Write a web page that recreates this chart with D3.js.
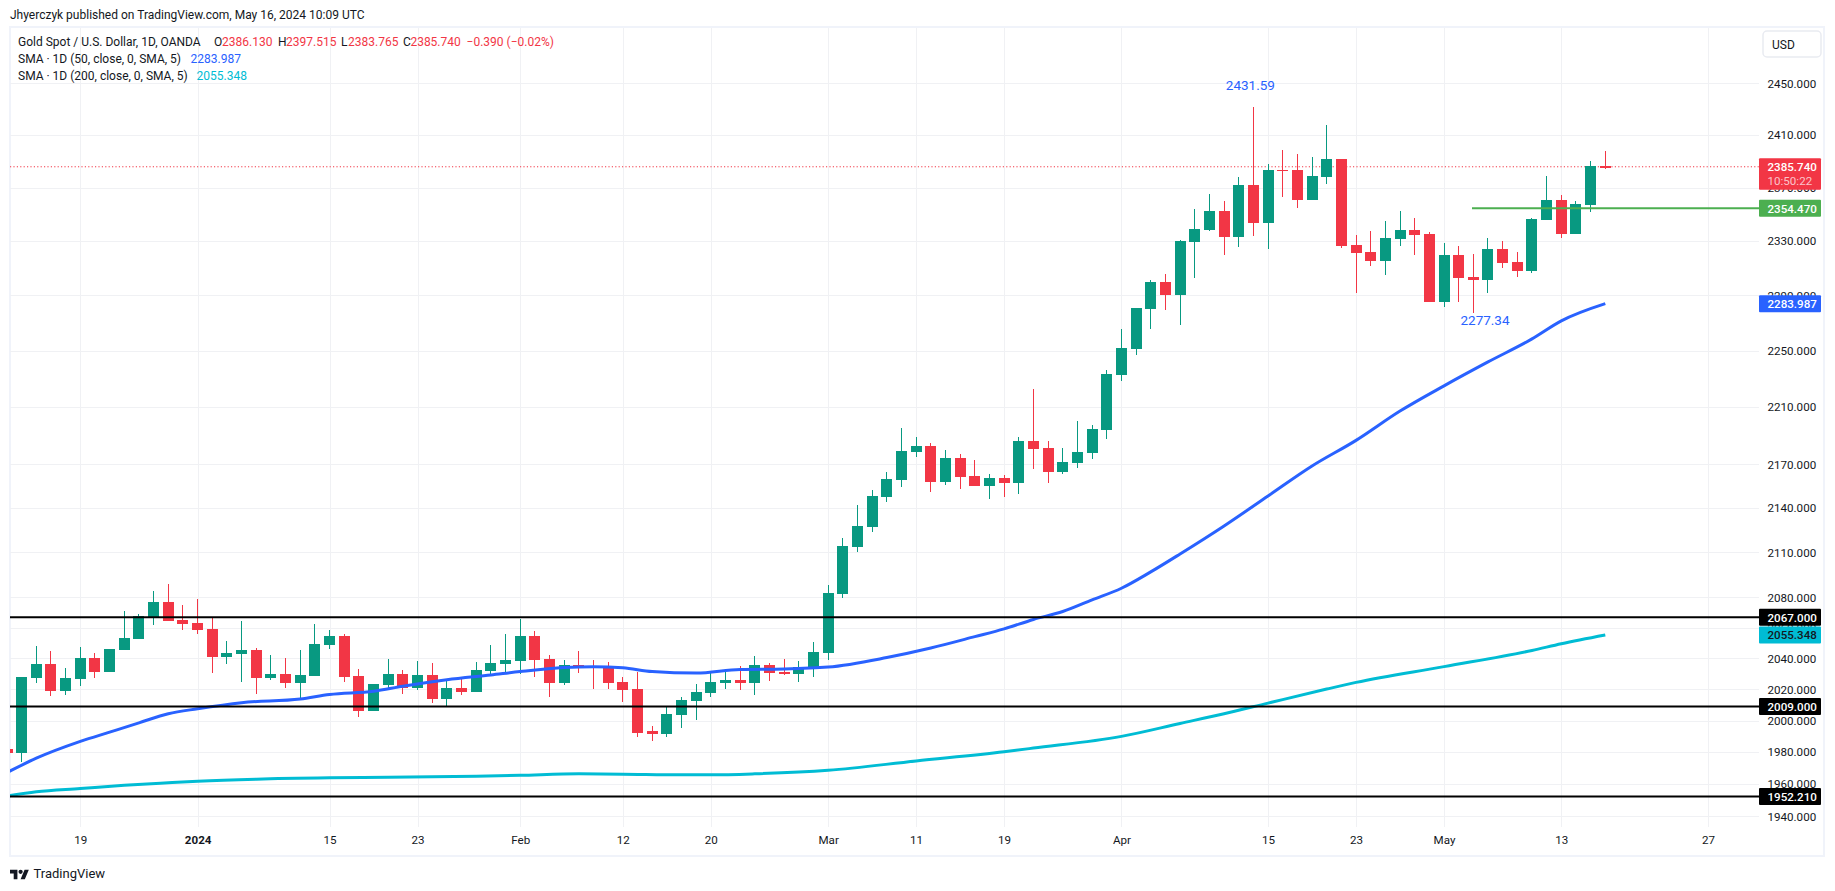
<!DOCTYPE html>
<html><head><meta charset="utf-8">
<script src="https://cdnjs.cloudflare.com/ajax/libs/d3/7.8.5/d3.min.js"></script>
<style>
html,body{margin:0;padding:0;background:#fff;overflow:hidden}
svg{display:block}
text{font-family:Roboto,"Liberation Sans",sans-serif;fill:#131722}
</style></head><body>
<svg id="c" width="1835" height="891"></svg>
<script>
const dates = ["2023-12-12","2023-12-13","2023-12-14","2023-12-15","2023-12-18","2023-12-19","2023-12-20","2023-12-21","2023-12-22","2023-12-26","2023-12-27","2023-12-28","2023-12-29",
"2024-01-02","2024-01-03","2024-01-04","2024-01-05","2024-01-08","2024-01-09","2024-01-10","2024-01-11","2024-01-12","2024-01-15","2024-01-16","2024-01-17","2024-01-18","2024-01-19","2024-01-22","2024-01-23","2024-01-24","2024-01-25","2024-01-26","2024-01-29","2024-01-30","2024-01-31",
"2024-02-01","2024-02-02","2024-02-05","2024-02-06","2024-02-07","2024-02-08","2024-02-09","2024-02-12","2024-02-13","2024-02-14","2024-02-15","2024-02-16","2024-02-19","2024-02-20","2024-02-21","2024-02-22","2024-02-23","2024-02-26","2024-02-27","2024-02-28","2024-02-29",
"2024-03-01","2024-03-04","2024-03-05","2024-03-06","2024-03-07","2024-03-08","2024-03-11","2024-03-12","2024-03-13","2024-03-14","2024-03-15","2024-03-18","2024-03-19","2024-03-20","2024-03-21","2024-03-22","2024-03-25","2024-03-26","2024-03-27","2024-03-28",
"2024-04-01","2024-04-02","2024-04-03","2024-04-04","2024-04-05","2024-04-08","2024-04-09","2024-04-10","2024-04-11","2024-04-12","2024-04-15","2024-04-16","2024-04-17","2024-04-18","2024-04-19","2024-04-22","2024-04-23","2024-04-24","2024-04-25","2024-04-26","2024-04-29","2024-04-30",
"2024-05-01","2024-05-02","2024-05-03","2024-05-06","2024-05-07","2024-05-08","2024-05-09","2024-05-10","2024-05-13","2024-05-14","2024-05-15","2024-05-16"];
const futureDates = ["2024-05-17","2024-05-20","2024-05-21","2024-05-22","2024-05-23","2024-05-24","2024-05-27"];

const opens = [1982.1,1979.3,2027.6,2036.7,2019.1,2026.9,2040.6,2031.5,2045.8,2052.9,2067.2,2077.0,2065.3,2063.3,2059.4,2041.2,2043.2,2045.8,2027.6,2030.2,2024.3,2028.9,2049.0,2054.9,2028.9,2006.1,2023.0,2030.2,2021.1,2029.5,2013.9,2021.1,2018.5,2032.1,2036.7,2038.6,2054.9,2039.9,2024.3,2036.0,2035.4,2034.7,2025.0,2020.4,1993.1,1991.8,2003.5,2012.6,2017.8,2024.3,2026.3,2024.3,2036.0,2031.5,2030.2,2034.1,2043.8,2082.3,2113.7,2127.2,2147.6,2159.3,2178.7,2182.8,2157.9,2174.5,2162.0,2155.2,2160.7,2157.2,2186.3,2181.5,2164.8,2171.0,2178.0,2194.0,2232.8,2251.3,2280.2,2299.9,2290.3,2329.3,2338.2,2352.5,2333.0,2372.0,2343.5,2383.4,2383.4,2360.7,2378.1,2391.8,2327.0,2321.9,2315.3,2331.5,2338.2,2335.2,2285.2,2319.7,2303.5,2301.3,2324.1,2314.6,2308.0,2345.7,2360.7,2335.2,2357.0,2386.13];
const highs = [1982.5,2028.2,2048.4,2045.1,2034.1,2047.7,2043.8,2046.4,2071.1,2069.2,2084.1,2088.7,2075.0,2078.9,2066.6,2051.6,2064.6,2047.1,2042.5,2040.6,2045.8,2062.7,2058.8,2056.2,2033.4,2023.7,2039.9,2032.8,2038.6,2037.3,2025.6,2027.6,2038.0,2049.0,2056.2,2065.9,2058.1,2042.5,2039.3,2045.1,2039.3,2038.0,2028.2,2031.5,1996.4,2008.7,2015.2,2023.7,2031.5,2032.8,2035.4,2041.9,2037.3,2039.9,2038.6,2051.0,2088.0,2119.8,2142.1,2152.4,2164.8,2195.4,2189.1,2184.9,2180.1,2177.3,2173.1,2163.4,2162.7,2189.1,2222.8,2186.3,2181.5,2200.3,2197.5,2236.3,2265.7,2280.9,2301.3,2305.7,2330.8,2354.0,2365.2,2360.0,2378.1,2431.6,2388.0,2398.6,2395.6,2393.3,2417.7,2391.8,2334.5,2337.5,2345.0,2352.5,2347.2,2336.7,2328.5,2326.3,2320.4,2332.2,2330.0,2321.9,2347.2,2378.8,2364.5,2360.0,2390.3,2397.515];
const lows = [1979.0,1973.6,2024.3,2015.9,2016.5,2022.4,2027.6,2031.5,2045.8,2052.9,2062.0,2064.6,2058.8,2056.2,2030.8,2036.7,2025.0,2017.2,2026.3,2021.1,2014.1,2028.9,2046.4,2025.0,2002.2,2006.1,2021.1,2017.2,2019.8,2011.3,2009.4,2016.5,2018.5,2029.5,2031.5,2030.2,2028.2,2015.2,2023.0,2030.8,2020.4,2020.4,2011.9,1989.8,1987.2,1989.8,1995.1,2000.3,2015.2,2020.4,2019.8,2016.5,2025.6,2029.5,2025.0,2028.2,2039.3,2079.7,2110.3,2123.8,2144.2,2154.5,2175.2,2151.1,2155.9,2153.1,2155.2,2146.2,2147.6,2149.7,2166.8,2157.2,2163.4,2167.5,2173.8,2187.7,2228.5,2247.0,2265.7,2279.5,2268.6,2302.8,2337.5,2319.7,2325.6,2333.7,2324.1,2363.0,2354.7,2360.7,2372.8,2324.9,2291.8,2311.6,2305.0,2326.3,2319.7,2285.2,2281.6,2285.2,2277.3,2291.8,2310.2,2303.5,2306.5,2345.7,2332.2,2335.2,2351.7,2383.765];
const closes = [1979.5,2028.2,2036.7,2019.1,2027.6,2040.6,2031.5,2046.4,2053.6,2067.9,2077.0,2064.6,2062.7,2058.8,2041.2,2043.8,2045.8,2027.6,2030.2,2024.3,2029.5,2049.7,2054.9,2028.2,2006.1,2023.7,2030.2,2021.1,2029.5,2013.9,2021.1,2018.5,2032.8,2037.3,2039.3,2054.9,2039.3,2024.3,2036.0,2034.7,2034.1,2024.3,2019.8,1992.4,1991.8,2004.2,2013.2,2018.5,2025.0,2026.3,2024.3,2036.0,2030.8,2030.2,2034.7,2044.5,2082.8,2114.4,2127.9,2148.3,2160.0,2179.4,2182.8,2157.9,2174.5,2161.4,2155.2,2160.7,2157.2,2186.3,2180.8,2164.8,2171.7,2178.7,2194.7,2233.5,2252.0,2280.9,2299.9,2290.3,2330.0,2339.0,2352.5,2333.0,2372.0,2343.5,2383.4,2382.6,2360.7,2378.8,2391.8,2326.3,2321.2,2315.3,2332.2,2338.2,2334.5,2285.2,2319.7,2302.8,2301.3,2324.1,2313.8,2308.0,2346.5,2360.7,2335.2,2357.7,2386.5,2385.74];

const sma50Bars = [0,2,5,7,9,11,13,16,20,22,25,27,30,33,35,38,40,42,44,47,50,53,56,60,63,66,68,70,72,74,76,78,80,83,86,89,92,95,98,101,104,106,109];
const sma50Values = [1967.2,1976.2,1986.8,1992.7,1998.6,2004.4,2007.6,2011.5,2013.8,2016.7,2018.8,2022.0,2026.2,2029.3,2031.5,2034.1,2034.6,2033.9,2031.5,2030.5,2032.9,2033.2,2034.4,2040.6,2046.8,2054.2,2059.3,2065.5,2070.7,2078.4,2086.1,2097.0,2109.0,2127.9,2148.3,2168.9,2186.7,2207.2,2225.0,2242.0,2258.5,2271.5,2283.987];
const sma200Bars = [0,2,5,8,11,13,17,22,26,32,35,39,42,46,48,51,56,62,68,70,76,80,83,86,90,92,98,104,106,109];
const sma200Values = [1952.5,1955.2,1957.2,1959.2,1960.8,1961.8,1963.1,1963.9,1964.2,1964.9,1965.5,1966.4,1966.2,1965.8,1965.8,1966.4,1968.6,1974.5,1980.3,1982.6,1990.0,1998.2,2004.4,2011.2,2020.2,2024.5,2034.7,2045.2,2049.6,2055.348];

const priceTicks = [2450,2410,2370,2330,2290,2250,2210,2170,2140,2110,2080,2060,2040,2020,2000,1980,1960,1940];
const timeTickDates = ["2023-12-19","2024-01-02","2024-01-15","2024-01-23","2024-02-01","2024-02-12","2024-02-20","2024-03-01","2024-03-11","2024-03-19","2024-04-01","2024-04-15","2024-04-23","2024-05-01","2024-05-13","2024-05-27"];
const timeTickLabels = ["19","2024","15","23","Feb","12","20","Mar","11","19","Apr","15","23","May","13","27"];

const supportLevels = [2067,2009,1952.21];
const supportLabels = ["2067.000","2009.000","1952.210"];
const greenLevel = 2354.47;
const lastClose = 2385.74, sma50Last = 2283.987, sma200Last = 2055.348;

const C = {green:"#089981",red:"#f23645",blue:"#2962ff",cyan:"#00bcd4",grid:"#f0f3fa",line:"#4caf50",text:"#131722"};
const L = {left:10,right:1759,top:28,bottom:827,axisRight:1821};

const allDates = dates.concat(futureDates);
const x = d3.scaleLinear().domain([0,109]).range([7,1605.3]);
const y = d3.scaleLog().domain([1940,2450]).range([816.3,83.3]);
const svg = d3.select("#c");

svg.append("defs").append("clipPath").attr("id","pane").append("rect")
  .attr("x",L.left).attr("y",L.top).attr("width",L.right-L.left).attr("height",L.bottom-L.top);

// frame
svg.append("rect").attr("x",10).attr("y",27).attr("width",1814).attr("height",829)
  .attr("fill","#fff").attr("stroke",C.grid).attr("stroke-width",2);

// grid via axes
const tickIdx = timeTickDates.map(d=>allDates.indexOf(d));
const gx = svg.append("g").attr("transform",`translate(0,${L.top})`)
  .call(d3.axisBottom(x).tickValues(tickIdx).tickSize(L.bottom-L.top).tickFormat(""));
gx.select(".domain").remove();
gx.selectAll("line").attr("stroke","#f0f1f4").attr("shape-rendering","crispEdges");
const gy = svg.append("g").attr("transform",`translate(${L.right},0)`)
  .call(d3.axisLeft(y).tickValues(priceTicks).tickSize(L.right-L.left).tickFormat(""));
gy.select(".domain").remove();
gy.selectAll("line").attr("stroke","#f0f1f4").attr("shape-rendering","crispEdges");

const pane = svg.append("g").attr("clip-path","url(#pane)");

// last price dotted
pane.append("line").attr("x1",L.left).attr("x2",L.right).attr("y1",y(lastClose)).attr("y2",y(lastClose))
  .attr("stroke",C.red).attr("stroke-width",1).attr("stroke-dasharray","1.2 2.2");

// candles
const bars = d3.range(dates.length);
const col = i => closes[i] >= opens[i] ? C.green : C.red;
const bodyW = 11;
pane.append("g").attr("shape-rendering","crispEdges").selectAll("rect").data(bars).join("rect")
  .attr("x",i=>Math.round(x(i)-bodyW/2)+Math.floor(bodyW/2))
  .attr("width",1)
  .attr("y",i=>y(highs[i])).attr("height",i=>y(lows[i])-y(highs[i]))
  .attr("fill",col);
pane.append("g").attr("shape-rendering","crispEdges").selectAll("rect").data(bars).join("rect")
  .attr("x",i=>Math.round(x(i)-bodyW/2))
  .attr("width",bodyW)
  .attr("y",i=>y(Math.max(opens[i],closes[i])))
  .attr("height",i=>Math.max(1.5,Math.abs(y(opens[i])-y(closes[i]))))
  .attr("fill",col);

// SMAs
const lineGen = (bs,vs)=>d3.line().x((d,i)=>x(bs[i])).y((d,i)=>y(vs[i])).curve(d3.curveMonotoneX)(vs);
pane.append("path").attr("d",lineGen(sma200Bars,sma200Values)).attr("fill","none").attr("stroke",C.cyan).attr("stroke-width",3);
pane.append("path").attr("d",lineGen(sma50Bars,sma50Values)).attr("fill","none").attr("stroke",C.blue).attr("stroke-width",3);

// horizontal levels
pane.selectAll("line.lv").data(supportLevels).join("line").attr("class","lv")
  .attr("x1",L.left).attr("x2",L.right).attr("y1",d=>y(d)).attr("y2",d=>y(d))
  .attr("stroke","#000").attr("stroke-width",2);
const gs = 1472;
pane.append("line").attr("x1",gs).attr("x2",L.right).attr("y1",y(greenLevel)).attr("y2",y(greenLevel))
  .attr("stroke",C.line).attr("stroke-width",2);

// annotations
const note = (t,cx,cy)=>svg.append("text").text(t).attr("x",cx).attr("y",cy).attr("text-anchor","middle")
  .attr("dominant-baseline","central").attr("font-size",13.5).style("fill",C.blue);
note("2431.59",x(85)-3,85);
note("2277.34",1485,320);

// price axis
const ga = svg.append("g").attr("transform",`translate(${L.right},0)`)
  .call(d3.axisRight(y).tickValues(priceTicks).tickSize(0).tickPadding(8.5).tickFormat(d3.format(".3f")));
ga.select(".domain").remove();
ga.selectAll("text").attr("font-size",11.6).attr("font-family",null).style("fill",C.text);

// time axis
const gt = svg.append("g").attr("transform",`translate(0,${L.bottom})`)
  .call(d3.axisBottom(x).tickValues(tickIdx).tickSize(0).tickPadding(9).tickFormat((d,i)=>timeTickLabels[i]));
gt.select(".domain").remove();
gt.selectAll("text").attr("font-size",11.6).style("fill",C.text)
  .attr("font-weight",(d,i)=>timeTickLabels[i]==="2024"?700:400);

// axis tags
function tag(v,label,fill,txt){
  const cy=y(v), g=svg.append("g");
  g.append("rect").attr("x",L.right).attr("y",cy-8.5).attr("width",L.axisRight-L.right).attr("height",17).attr("fill",fill).attr("rx",1);
  g.append("text").text(label).attr("x",L.right+8.5).attr("y",cy+.5).attr("dominant-baseline","central").attr("font-size",11.6)
    .attr("font-weight",500).style("fill",txt);
}
supportLevels.forEach((v,i)=>tag(v,supportLabels[i],"#000","#fff"));
tag(sma200Last,"2055.348",C.cyan,"#131722");
tag(sma50Last,"2283.987",C.blue,"#fff");
tag(greenLevel,"2354.470",C.line,"#fff");
const rg=svg.append("g");
rg.append("rect").attr("x",L.right).attr("y",y(lastClose)-8.5).attr("width",L.axisRight-L.right).attr("height",31.5).attr("fill",C.red).attr("rx",1);
rg.append("text").text("2385.740").attr("x",L.right+8.5).attr("y",y(lastClose)+.5).attr("dominant-baseline","central").attr("font-size",11.6).attr("font-weight",500).style("fill","#fff");
rg.append("text").text("10:50:22").attr("x",L.right+8.5).attr("y",y(lastClose)+14.5).attr("dominant-baseline","central").attr("font-size",11.6).style("fill","#fbc4ca");

// currency button
svg.append("rect").attr("x",1763).attr("y",31).attr("width",58).attr("height",26).attr("rx",4).attr("fill","#fff").attr("stroke","#e9ebf1").attr("stroke-width",1.5);
svg.append("text").text("USD").attr("x",1772).attr("y",44.5).attr("dominant-baseline","central").attr("font-size",12);

// header
const T=(t,px,py,fill,fs)=>svg.append("text").text(t).attr("x",px).attr("y",py).attr("dominant-baseline","central").attr("font-size",fs||12).style("fill",fill||C.text);
T("Jhyerczyk published on TradingView.com, May 16, 2024 10:09 UTC",10,15);
T("Gold Spot / U.S. Dollar, 1D, OANDA",18,41.7);
T("O",214,41.7);T("2386.130",222,41.7,C.red);
T("H",278,41.7);T("2397.515",286,41.7,C.red);
T("L",341,41.7);T("2383.765",348,41.7,C.red);
T("C",403,41.7);T("2385.740",410.4,41.7,C.red);
T("\u22120.390 (\u22120.02%)",466.6,41.7,C.red);
T("SMA \u00b7 1D (50, close, 0, SMA, 5)",18,58.7);T("2283.987",190.6,58.7,C.blue);
T("SMA \u00b7 1D (200, close, 0, SMA, 5)",18,75.7);T("2055.348",196.5,75.7,C.cyan);

// footer logo
const logo=svg.append("g").attr("transform","translate(10,866) scale(.53)").attr("fill","#131722");
logo.append("path").attr("d","M14 25H7V14H0V7h14v18zM28 25h-8l7.5-18h8L28 25z");
logo.append("circle").attr("cx",20).attr("cy",11).attr("r",4);
T("TradingView",33.5,873.7,"#131722",13);
</script>
</body></html>
